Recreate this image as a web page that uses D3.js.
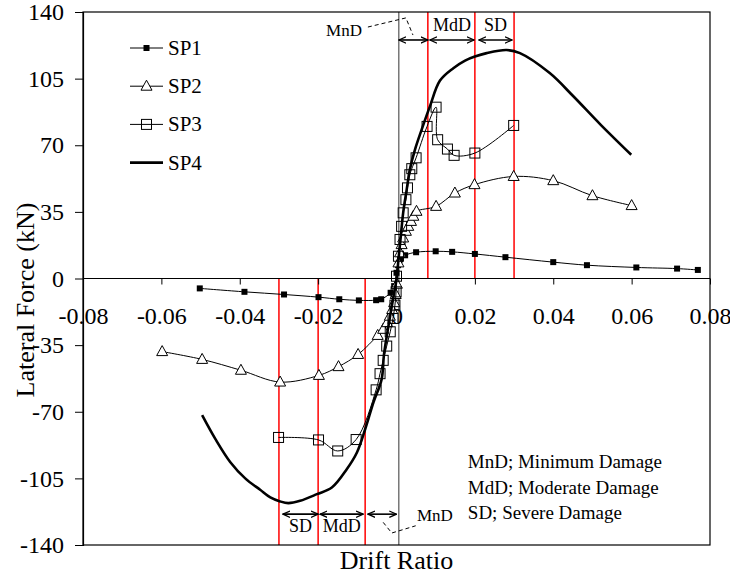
<!DOCTYPE html>
<html>
<head>
<meta charset="utf-8">
<script src="https://cdn.jsdelivr.net/npm/d3@7"></script>
<style>
  body { margin: 0; background: #fff; }
  text { font-family: "Liberation Serif", "Times New Roman", serif; fill: #000; }
</style>
</head>
<body>
<script>
/*
Hysteresis envelope data, drift ratio vs lateral force (kN)
 */
const xTicks = [-0.08, -0.06, -0.04, -0.02, 0, 0.02, 0.04, 0.06, 0.08];
const xTickLabels = ["-0.08", "-0.06", "-0.04", "-0.02", "0", "0.02", "0.04", "0.06", "0.08"];
const yTicks = [140, 105, 70, 35, 0, -35, -70, -105, -140];
const yTickLabels = ["140", "105", "70", "35", "0", "-35", "-70", "-105", "-140"];

const seriesNames = ["SP1", "SP2", "SP3", "SP4"];

const sp1 = [[-0.0502,-5.2],[-0.0388,-7.0],[-0.0287,-8.4],[-0.0199,-9.8],[-0.0146,-10.9],[-0.0096,-11.5],
    [-0.0052,-11.4],[-0.0039,-10.9],[-0.0015,-7.5],[-0.0006,-4],[0,3],[0.0004,7],[0.0009,10],[0.0022,12.2],
    [0.005,13.8],[0.010,14.3],[0.0142,14.0],[0.020,12.9],[0.0278,11.2],[0.040,8.6],[0.0486,7.0],
    [0.0612,5.8],[0.0716,5.2],[0.0769,4.5]];

const sp2 = [[-0.0598,-38.4],[-0.0496,-42.5],[-0.0397,-48.2],[-0.0297,-54.4],[-0.0198,-50.9],[-0.0148,-46.3],
    [-0.0098,-39.9],[-0.0048,-29.9],[-0.0034,-26.7],[-0.0024,-23.2],[-0.0017,-19.8],[-0.0011,-16.3],
    [-0.0006,-12.7],[-0.0002,-8.4],[0.0001,-3],[0.0005,8.2],[0.0009,13.5],[0.0013,17.8],[0.0017,21.3],
    [0.0024,24.8],[0.003,27.4],[0.0037,30],[0.0043,32.7],[0.0051,35.3],[0.0101,37.9],[0.0149,44.9],
    [0.0199,49.3],[0.0299,53.6],[0.040,51.4],[0.050,43.5],[0.060,38.3]];

const sp3 = [[-0.0301,-83.5],[-0.0199,-84.8],[-0.015,-90.6],[-0.0103,-84.6],[-0.0052,-58.5],[-0.0042,-50],
    [-0.0034,-43],[-0.0025,-35.5],[-0.0016,-28],[-0.0009,-21],[-0.0004,-14],[-0.0001,-7],[0,1.2],
    [0.0005,11.7],[0.0009,20.5],[0.0013,27.4],[0.0017,34.5],[0.0024,41.4],[0.0028,47.6],[0.0034,54.5],
    [0.0039,57.7],[0.005,63.4],[0.0078,79.9],[0.0101,90],[0.0105,72.9],[0.013,68],[0.0147,64.7],
    [0.020,65.9],[0.0299,80.4]];

const sp4 = [[-0.0496,-71.8],[-0.0462,-84.4],[-0.0424,-96.5],[-0.0386,-105],[-0.0348,-111],[-0.0322,-115],
    [-0.0297,-117.1],[-0.0276,-118],[-0.0246,-116.8],[-0.0203,-113.3],[-0.0165,-109.8],[-0.0127,-100.2],
    [-0.0101,-91.4],[-0.008,-79.2],[-0.0059,-65.2],[-0.0038,-53],[-0.0032,-40],[-0.0022,-26.7],
    [-0.0009,-11],[0,-0.5],[0.0005,10],[0.0011,22.2],[0.0017,34.5],[0.0026,46.7],[0.0034,57.2],
    [0.0047,67.6],[0.0064,78.1],[0.0085,90.3],[0.0111,104],[0.0145,110.5],[0.0175,114.5],[0.02,116.6],
    [0.023,118.4],[0.0281,120],[0.0315,118.4],[0.0391,107.9],[0.045,96],[0.052,81],[0.0599,65]];

// damage limit drift ratios (red lines)
const limitsPos = [0.008, 0.02, 0.03];
const limitsNeg = [-0.008, -0.02, -0.03];
const refLineX = 0.0006;

// range arrows [from, to, label] in drift ratio, with the force level they sit at
const topArrows = [[0.0006, 0.008, ""], [0.0085, 0.0198, "MdD"], [0.021, 0.0295, "SD"]];
const topArrowY = 125.3;
const topLabelY = 130;
const botArrows = [[-0.029, -0.02, "SD"], [-0.0195, -0.0085, "MdD"], [-0.0073, 0, ""]];
const botArrowY = -123.8;
const botLabelY = -133.2;
const topMnD = {x: -0.0134, y: 127.4, lead: [[-0.0073, 132.1], [0.0024, 136.9], [0.0042, 127.9]]};
const botMnD = {x: 0.0098, y: -127.4, lead: [[-0.0034, -128.1], [-0.0012, -133.7], [0.0049, -129.9]]};

const notes = ["MnD; Minimum Damage", "MdD; Moderate Damage", "SD; Severe Damage"];
const noteX = 0.0182;
const noteY = [-99.6, -113.1, -126.4];

/*
Layout
 */
const W = 730, H = 576;
const plot = {left: 83, right: 710, top: 12, bottom: 545};

const svg = d3.select("body").append("svg")
    .attr("width", W)
    .attr("height", H);

const x = d3.scaleLinear().domain([-0.08, 0.08]).range([plot.left, plot.right]);
const y = d3.scaleLinear().domain([-140, 140]).range([plot.bottom, plot.top]);

// damage limit lines
svg.append("g").selectAll("line").data(limitsPos).join("line")
    .attr("x1", d => x(d)).attr("x2", d => x(d))
    .attr("y1", y(140)).attr("y2", y(0))
    .attr("stroke", "#ff0000").attr("stroke-width", 1.5);
svg.append("g").selectAll("line").data(limitsNeg).join("line")
    .attr("x1", d => x(d)).attr("x2", d => x(d))
    .attr("y1", y(0)).attr("y2", y(-140))
    .attr("stroke", "#ff0000").attr("stroke-width", 1.5);

// thin vertical reference line
svg.append("line")
    .attr("x1", x(refLineX)).attr("x2", x(refLineX))
    .attr("y1", y(140)).attr("y2", y(-140))
    .attr("stroke", "#333").attr("stroke-width", 1);

// frame
svg.append("rect")
    .attr("x", plot.left).attr("y", plot.top)
    .attr("width", plot.right - plot.left).attr("height", plot.bottom - plot.top)
    .attr("fill", "none").attr("stroke", "#000").attr("stroke-width", 1.2);

//Axes
const xAxis = svg.append("g")
    .attr("transform", "translate(0," + y(0) + ")")
    .call(d3.axisBottom(x).tickValues(xTicks).tickSize(6).tickPadding(22)
        .tickFormat((d, i) => xTickLabels[i]));
const yAxis = svg.append("g")
    .attr("transform", "translate(" + plot.left + ",0)")
    .call(d3.axisLeft(y).tickValues(yTicks).tickSize(8).tickPadding(11)
        .tickFormat((d, i) => yTickLabels[i]));
[xAxis, yAxis].forEach(function(g) {
    g.select(".domain").attr("stroke", "#000").attr("stroke-width", 1.2);
    g.selectAll(".tick line").attr("stroke", "#000");
    g.selectAll("text").style("font-family", '"Liberation Serif", serif').style("font-size", "24px").attr("fill", "#000");
});
xAxis.select(".domain").attr("d", "M" + plot.left + ",0H" + plot.right);

svg.append("text")
    .attr("transform", "translate(34,300) rotate(-90)")
    .attr("text-anchor", "middle")
    .style("font-size", "26px")
    .text("Lateral Force (kN)");
svg.append("text")
    .attr("x", (plot.left + plot.right) / 2).attr("y", 569)
    .attr("text-anchor", "middle")
    .style("font-size", "26px")
    .text("Drift Ratio");

/*
Series
 */
const line = d3.line()
    .x(d => x(d[0])).y(d => y(d[1]))
    .curve(d3.curveCatmullRom.alpha(0.5));

const triPath = "M0,-6L5.5,4L-5.5,4Z";

function drawSeries(data, kind) {
    const g = svg.append("g");
    g.append("path").datum(data)
        .attr("d", line)
        .attr("fill", "none")
        .attr("stroke", "#000")
        .attr("stroke-width", kind === "thick" ? 2.6 : 1);
    if (kind === "filled") {
        g.selectAll("rect").data(data).join("rect")
            .attr("x", d => x(d[0]) - 3).attr("y", d => y(d[1]) - 3)
            .attr("width", 6).attr("height", 6).attr("fill", "#000");
    } else if (kind === "tri") {
        g.selectAll("path.m").data(data).join("path").attr("class", "m")
            .attr("d", triPath)
            .attr("transform", d => "translate(" + x(d[0]) + "," + y(d[1]) + ")")
            .attr("fill", "#fff").attr("stroke", "#000").attr("stroke-width", 1);
    } else if (kind === "square") {
        g.selectAll("rect").data(data).join("rect")
            .attr("x", d => x(d[0]) - 5).attr("y", d => y(d[1]) - 5)
            .attr("width", 10).attr("height", 10)
            .attr("fill", "none").attr("stroke", "#000").attr("stroke-width", 1);
    }
}

drawSeries(sp1, "filled");
drawSeries(sp2, "tri");
drawSeries(sp3, "square");
drawSeries(sp4, "thick");

/*
Annotations
 */
const defs = svg.append("defs");
defs.append("marker").attr("id", "ah")
    .attr("viewBox", "0 -5 10 10").attr("refX", 9).attr("refY", 0)
    .attr("markerWidth", 8).attr("markerHeight", 8).attr("markerUnits", "userSpaceOnUse")
    .attr("orient", "auto-start-reverse")
    .append("path").attr("d", "M0,-4L9,0L0,4").attr("fill", "none")
    .attr("stroke", "#000").attr("stroke-width", 1.6);

function drawArrows(list, ay, ly) {
    list.forEach(function(a) {
        svg.append("line")
            .attr("x1", x(a[0])).attr("x2", x(a[1]))
            .attr("y1", y(ay)).attr("y2", y(ay))
            .attr("stroke", "#000").attr("stroke-width", 1.6)
            .attr("marker-start", "url(#ah)").attr("marker-end", "url(#ah)");
        if (a[2]) {
            svg.append("text")
                .attr("x", x((a[0] + a[1]) / 2)).attr("y", y(ly))
                .attr("text-anchor", "middle").style("font-size", "18px")
                .text(a[2]);
        }
    });
}
drawArrows(topArrows, topArrowY, topLabelY);
drawArrows(botArrows, botArrowY, botLabelY);

const lead = d3.line().x(d => x(d[0])).y(d => y(d[1]));
[topMnD, botMnD].forEach(function(m) {
    svg.append("path").attr("d", lead(m.lead))
        .attr("fill", "none").attr("stroke", "#000").attr("stroke-width", 1)
        .attr("stroke-dasharray", "4,3");
    svg.append("text")
        .attr("x", x(m.x)).attr("y", y(m.y))
        .attr("text-anchor", "middle").style("font-size", "17px")
        .text("MnD");
});

svg.append("g").selectAll("text").data(notes).join("text")
    .attr("x", x(noteX)).attr("y", (d, i) => y(noteY[i]))
    .style("font-size", "19px")
    .text(d => d);

/*
Legend
 */
const legend = svg.append("g").attr("transform", "translate(130,48)");
const kinds = ["filled", "tri", "square", "thick"];
seriesNames.forEach(function(name, i) {
    const row = legend.append("g").attr("transform", "translate(0," + (i * 38.2) + ")");
    row.append("line").attr("x1", 0).attr("x2", 33).attr("y1", 0).attr("y2", 0)
        .attr("stroke", "#000").attr("stroke-width", kinds[i] === "thick" ? 2.6 : 1);
    if (kinds[i] === "filled") {
        row.append("rect").attr("x", 13.5).attr("y", -3).attr("width", 6).attr("height", 6).attr("fill", "#000");
    } else if (kinds[i] === "tri") {
        row.append("path").attr("d", triPath).attr("transform", "translate(16.5,0)")
            .attr("fill", "#fff").attr("stroke", "#000");
    } else if (kinds[i] === "square") {
        row.append("rect").attr("x", 11.5).attr("y", -5).attr("width", 10).attr("height", 10)
            .attr("fill", "none").attr("stroke", "#000");
    }
    row.append("text").attr("x", 38).attr("y", 7).style("font-size", "21px").text(name);
});
</script>
</body>
</html>
